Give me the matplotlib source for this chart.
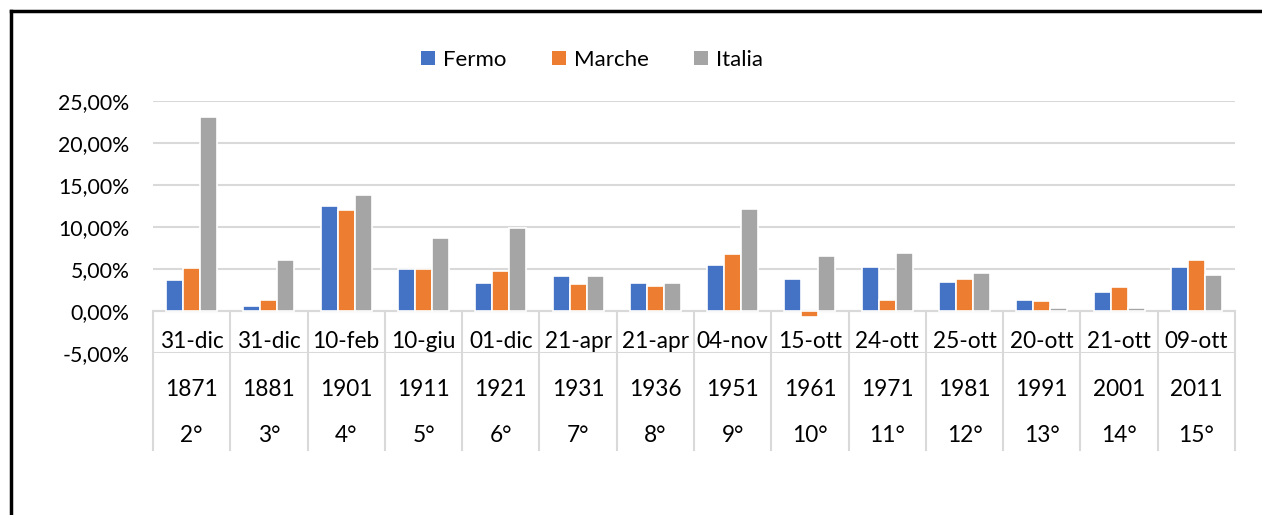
import matplotlib
matplotlib.use("Agg")
import matplotlib.pyplot as plt
import matplotlib.transforms as mtransforms
from matplotlib.lines import Line2D
from matplotlib.patches import Patch
import numpy as np

plt.rcParams['font.family'] = ['Lato', 'DejaVu Sans']

dates = ["31-dic", "31-dic", "10-feb", "10-giu", "01-dic", "21-apr", "21-apr",
         "04-nov", "15-ott", "24-ott", "25-ott", "20-ott", "21-ott", "09-ott"]
years = ["1871", "1881", "1901", "1911", "1921", "1931", "1936",
         "1951", "1961", "1971", "1981", "1991", "2001", "2011"]
census = ["2°", "3°", "4°", "5°", "6°", "7°", "8°",
          "9°", "10°", "11°", "12°", "13°", "14°", "15°"]

fermo = [3.65, 0.56, 12.46, 5.05, 3.38, 4.13, 3.38, 5.44, 3.86, 5.24, 3.50, 1.27, 2.23, 5.20]
marche = [5.17, 1.36, 11.99, 5.05, 4.73, 3.18, 2.98, 6.79, -0.75, 1.36, 3.86, 1.15, 2.86, 6.07]
italia = [23.10, 6.04, 13.86, 8.69, 9.88, 4.13, 3.30, 12.10, 6.51, 6.87, 4.49, 0.32, 0.32, 4.29]

series = [("Fermo", fermo, "#4472C4"), ("Marche", marche, "#ED7D31"), ("Italia", italia, "#A5A5A5")]

W, H = 1262, 515
fig = plt.figure(figsize=(W / 100, H / 100), dpi=100)

px_left, px_right, px_top, px_bottom = 153, 1235, 101, 353
ax = fig.add_axes([px_left / W, 1 - px_bottom / H, (px_right - px_left) / W, (px_bottom - px_top) / H])

n = len(years)
x = np.arange(n)
slot = 0.22
for i, (name, vals, col) in enumerate(series):
    ax.bar(x + (i - 1) * slot, vals, width=slot, color=col, edgecolor="white",
           linewidth=1.2, label=name, zorder=3)

ax.set_xlim(-0.5, n - 0.5)
ax.set_ylim(-5, 25)
yt = [-5, 0, 5, 10, 15, 20, 25]
ax.set_yticks(yt)
ax.set_yticklabels([("%.2f%%" % v).replace(".", ",") for v in yt], fontsize=15.3, color="#000000")
ax.tick_params(axis="y", length=0, pad=17)
ax.set_xticks([])
ax.grid(axis="y", color="#D9D9D9", linewidth=1.5, zorder=0)
for s in ax.spines.values():
    s.set_visible(False)
ax.axhline(0, color="#D9D9D9", linewidth=1.5, zorder=2)

# category table below the zero line
trans = mtransforms.blended_transform_factory(ax.transData, ax.transAxes)
def ya(p):
    return (px_bottom - p) / (px_bottom - px_top)

for b in np.arange(-0.5, n, 1.0):
    ax.plot([b, b], [ya(311), ya(450)], transform=trans, color="#D9D9D9",
            linewidth=1.5, clip_on=False, zorder=1)
for i in range(n):
    ax.text(i, ya(341), dates[i], transform=trans, ha="center", va="center", fontsize=16.3)
    ax.text(i, ya(389), years[i], transform=trans, ha="center", va="center", fontsize=16.3)
    ax.text(i, ya(436), census[i], transform=trans, ha="center", va="center", fontsize=16.3)

# legend
handles = [Patch(facecolor=c, edgecolor="none") for _, _, c in series]
leg = fig.legend(handles, [s[0] for s in series], loc="center", bbox_to_anchor=(592 / W, 1 - 60 / H),
                 ncol=3, frameon=False, fontsize=16, handlelength=0.62, handleheight=0.62,
                 handletextpad=0.35, columnspacing=2.05)

# outer frame (left and top only visible)
fig.add_artist(Line2D([10.5 / W, 10.5 / W], [0, 1 - 11 / H], color="black", linewidth=2.5))
fig.add_artist(Line2D([10.5 / W, 1], [1 - 11 / H, 1 - 11 / H], color="black", linewidth=2.5))

fig.savefig("out.png", dpi=100)
